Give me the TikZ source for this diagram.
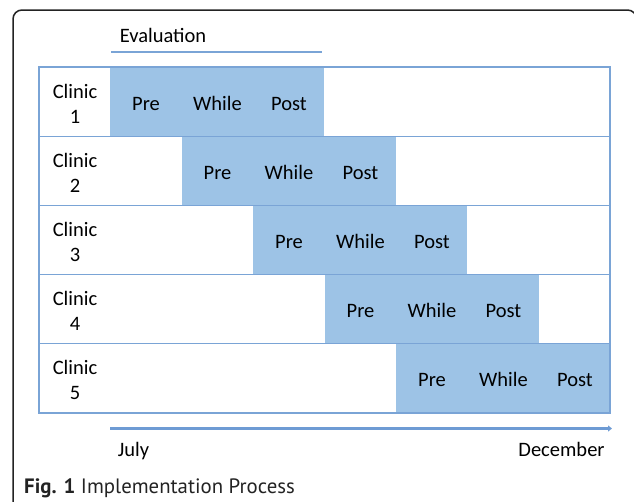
\documentclass[tikz,border=0pt]{standalone}
\usepackage{fontspec}
\setmainfont{Carlito}
\newfontfamily\capfont{PT Sans}
\usetikzlibrary{arrows.meta}
\definecolor{cellblue}{RGB}{157,195,230}
\definecolor{gridblue}{RGB}{122,164,214}
\definecolor{arrowblue}{RGB}{110,155,212}
\definecolor{framegray}{RGB}{35,35,35}
\begin{document}
\begin{tikzpicture}[x=1pt,y=-1pt,
  txt/.style={font=\fontsize{20.5}{25}\selectfont, inner sep=0, anchor=base},
  gridline/.style={draw=gridblue, line width=1.3},
  cell/.style={fill=cellblue}]
\useasboundingbox (0,0) rectangle (634,501);
% frame
\begin{scope}
\clip (0,0) rectangle (634,501);
\draw[framegray, line width=1.5, rounded corners=9] (13,10) rectangle (636.5,540);
\end{scope}
% evaluation
\node[txt] (eval) at (163,42) {Evaluation};
\coordinate (evalA) at (111,52);
\coordinate (evalB) at (322,52);
\draw[gridblue, line width=2.2] (evalA) -- (evalB);
% shaded blocks and texts
\foreach \i in {0,...,4} {
  \pgfmathsetmacro\yt{67+69.2*\i}
  \pgfmathsetmacro\xs{110+71.5*\i}
  \fill[cell] (\xs,\yt) rectangle ++(214,69.2);
  \node[txt] (pre\i) at (\xs+36,\yt+43) {Pre};
  \node[txt] (while\i) at (\xs+107.5,\yt+43) {While};
  \node[txt] (post\i) at (\xs+179,\yt+43) {Post};
  \pgfmathtruncatemacro\n{\i+1}
  \node[txt] (clinic\i) at (75,\yt+31) {Clinic};
  \node[txt] (num\i) at (75,\yt+56) {\n};
}
% grid
\draw[gridline] (39,67) rectangle (610,413);
\foreach \i in {1,...,4} {
  \pgfmathsetmacro\yt{67+69.2*\i}
  \draw[gridline] (39,\yt) -- (610,\yt);
}
% time arrow
\coordinate (tA) at (110,428.5);
\coordinate (tB) at (612,428.5);
\draw[arrowblue, line width=3, -{Triangle[length=4pt,width=6pt]}] (tA) -- (tB);
\node[txt] (july) at (133.5,456) {July};
\node[txt] (dec) at (561.5,456) {December};
% caption
\node[anchor=base west, inner sep=0, font=\capfont\fontsize{20.8}{24}\selectfont, text=framegray] (cap) at (24,493) {\textbf{Fig. 1} Implementation Process};
\end{tikzpicture}
\end{document}
